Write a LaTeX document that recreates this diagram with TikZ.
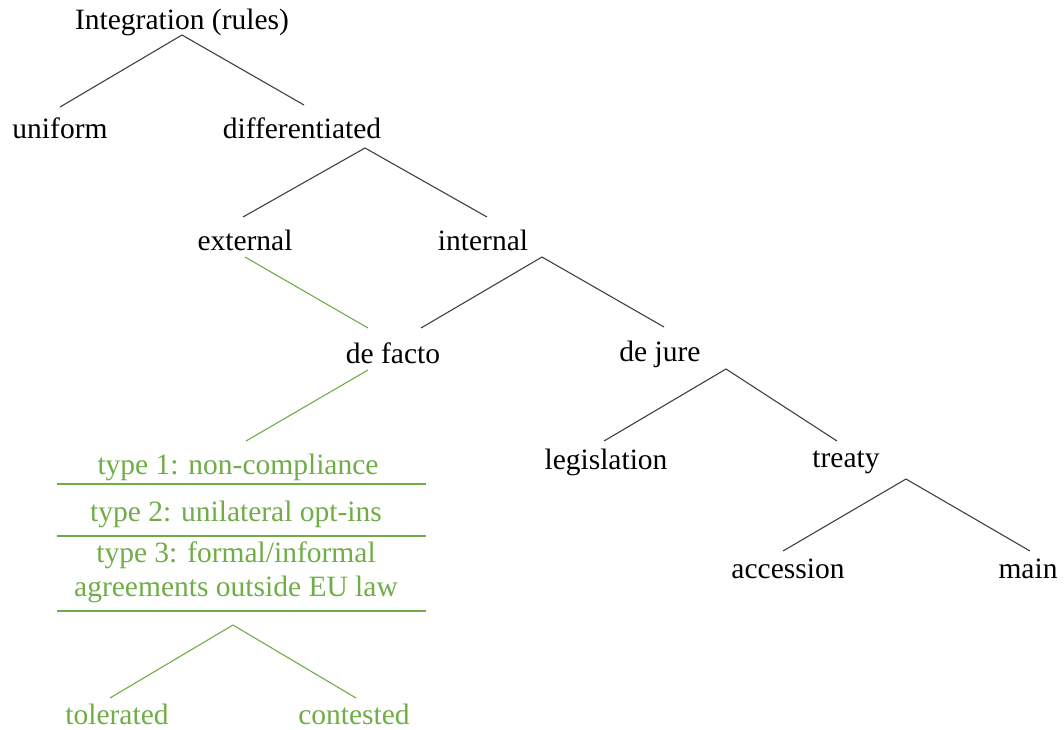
\documentclass[tikz,border=0pt]{standalone}
\usepackage{fontspec}
\setmainfont{Liberation Serif}
\newfontfamily\tnr{Liberation Serif}
\definecolor{lgreen}{RGB}{112,173,71}
\definecolor{lgrey}{RGB}{64,64,64}
\begin{document}
\begin{tikzpicture}[x=1pt,y=-1pt,
  lbl/.style={inner sep=0pt,font=\tnr\fontsize{29.5}{34}\selectfont,text=black},
  glbl/.style={lbl,text=lgreen},
  edge/.style={draw=lgrey,line width=1.1pt},
  gedge/.style={draw=lgreen,line width=1.1pt}]
\useasboundingbox (0,0) rectangle (1064,729);
% labels
\node[lbl] (int) at (182,22) {Integration (rules)};
\node[lbl] (uni) at (60,128) {uniform};
\node[lbl] (dif) at (302,128) {differentiated};
\node[lbl] (ext) at (245,240) {external};
\node[lbl] (inn) at (483,240) {internal};
\node[lbl] (df) at (393,353) {de facto};
\node[lbl] (dj) at (660,354) {de jure};
\node[lbl] (leg) at (606,462) {legislation};
\node[lbl] (tre) at (846,462) {treaty};
\node[lbl] (acc) at (788,569) {accession};
\node[lbl] (mai) at (1028,569) {main};
\node[glbl] (t1) at (238,467) {type 1: non-compliance};
\node[glbl] (t2) at (236,514) {type 2: unilateral opt-ins};
\node[glbl,align=center] (t3) at (236,572) {type 3: formal/informal\\agreements outside EU law};
\node[glbl] (tol) at (117,714) {tolerated};
\node[glbl] (con) at (354,714) {contested};
% connector points
\coordinate (a1) at (182,35);  \coordinate (a1l) at (60,107);  \coordinate (a1r) at (304,105);
\coordinate (a2) at (365,148); \coordinate (a2l) at (243,217); \coordinate (a2r) at (487,217);
\coordinate (a3) at (542,257); \coordinate (a3l) at (421,328); \coordinate (a3r) at (664,327);
\coordinate (g1) at (245,257); \coordinate (g1e) at (368,328);
\coordinate (g2) at (368,370); \coordinate (g2e) at (246,441);
\coordinate (a4) at (726,369); \coordinate (a4l) at (604,441); \coordinate (a4r) at (837,441);
\coordinate (a5) at (906,479); \coordinate (a5l) at (783,551); \coordinate (a5r) at (1030,551);
\coordinate (g3) at (233,625); \coordinate (g3l) at (110,698); \coordinate (g3r) at (356,698);
\coordinate (h1l) at (57,484); \coordinate (h1r) at (426,484);
\coordinate (h2l) at (57,536); \coordinate (h2r) at (426,536);
\coordinate (h3l) at (57,611); \coordinate (h3r) at (426,611);
% connectors
\draw[edge] (a1l) -- (a1) -- (a1r);
\draw[edge] (a2l) -- (a2) -- (a2r);
\draw[edge] (a3l) -- (a3) -- (a3r);
\draw[edge] (a4l) -- (a4) -- (a4r);
\draw[edge] (a5l) -- (a5) -- (a5r);
\draw[gedge] (g1) -- (g1e);
\draw[gedge] (g2) -- (g2e);
\draw[gedge] (g3l) -- (g3) -- (g3r);
\draw[gedge] (h1l) -- (h1r);
\draw[gedge] (h2l) -- (h2r);
\draw[gedge] (h3l) -- (h3r);
\end{tikzpicture}
\end{document}
